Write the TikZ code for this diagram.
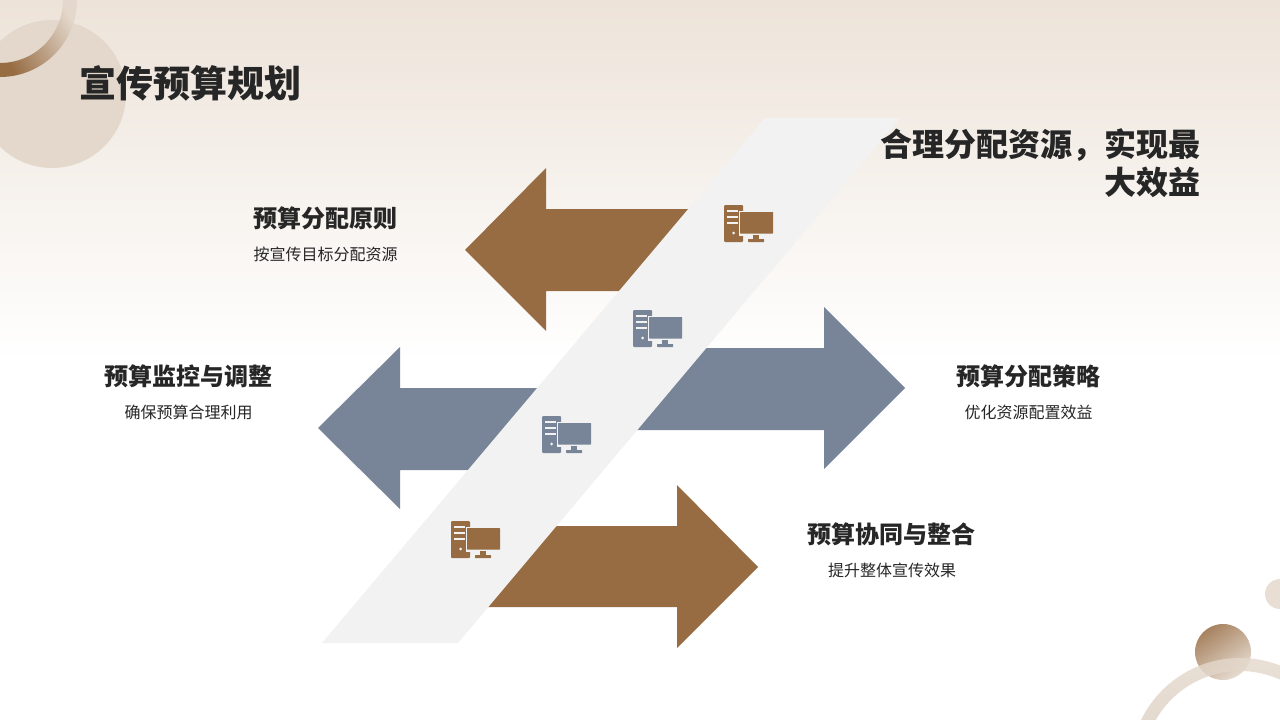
\documentclass[tikz,border=0pt]{standalone}
\usepackage{xcolor}
\usepackage{fontspec}
\usepackage{tikz}
\setmainfont{Noto Sans CJK SC}
\definecolor{brownarrow}{HTML}{976C43}
\definecolor{bluearrow}{HTML}{788598}
\definecolor{bandgrey}{HTML}{F2F2F2}
\definecolor{inktext}{HTML}{262626}
\definecolor{sandtop}{HTML}{EDE3D9}
\definecolor{sandcircle}{HTML}{E4D8CC}
\tikzset{
  headtext/.style={text=inktext,font=\fontsize{24}{28}\selectfont\bfseries,inner sep=0pt},
  subtext/.style={text=inktext,font=\fontsize{16}{20}\selectfont,inner sep=0pt},
  computer/.pic={
    \fill[rounded corners=1] (0,0) rectangle (19,37);
    \fill[bandgrey] (3,5) rectangle (14,7);
    \fill[bandgrey] (3,10.5) rectangle (14,12.5);
    \fill[bandgrey] (3,16.5) rectangle (14,18.5);
    \fill[bandgrey] (9.7,28) circle (1.5);
    \fill[bandgrey] (14.5,5.5) rectangle (51,30.5);
    \fill[rounded corners=.5] (16,7) rectangle (49,28.5);
    \fill (28.5,30) rectangle (35,34);
    \fill[rounded corners=.5] (24,34) rectangle (40,37);
  }
}
\begin{document}
\begin{tikzpicture}[x=1pt,y=-1pt]
  \useasboundingbox (0,0) rectangle (1280,720);
  % background
  \fill[white] (0,0) rectangle (1280,720);
  \shade[top color=sandtop,bottom color=white] (0,0) rectangle (1280,360);

  % corner decoration
  \fill[sandcircle] (52,94) circle (74);
  \shade[bottom color=brownarrow,top color=sandcircle,shading angle=-60]
    (77,0) arc (0:90:77) -- (0,63) arc (90:0:63) -- cycle;
  \fill[sandcircle!85!white] (1280,594) circle (15);
  \shade[left color=brownarrow!85!white,right color=sandcircle!90!white,shading angle=35]
    (1223,652) circle (28);
  \shade[even odd rule,top color=sandcircle,bottom color=sandcircle!75!brownarrow,opacity=.8]
    (1240,768) circle (110) (1240,768) circle (97);

  % arrows
  \fill[brownarrow] (465,250)--(546,168)--(546,209)--(700,209)--(700,291)--(546,291)--(546,331)--cycle;
  \fill[bluearrow] (318,428)--(400,347)--(400,388)--(560,388)--(560,470)--(400,470)--(400,509)--cycle;
  \fill[bluearrow] (905,388)--(824,307)--(824,348)--(620,348)--(620,430)--(824,430)--(824,469)--cycle;
  \fill[brownarrow] (758,567)--(677,485)--(677,526)--(470,526)--(470,607)--(677,607)--(677,648)--cycle;

  % band
  \fill[bandgrey] (322,643)--(458,643)--(900,118)--(765,118)--cycle;

  % icons
  \pic[brownarrow] at (724,205) {computer};
  \pic[bluearrow] at (633,310) {computer};
  \pic[bluearrow] at (542,416) {computer};
  \pic[brownarrow] at (451,521) {computer};

  % texts
  \node[anchor=west,text=inktext,inner sep=0pt,font=\fontsize{37}{42}\selectfont\bfseries] (title) at (79.5,83) {宣传预算规划};
  \node[anchor=east,align=right,text=inktext,inner sep=0pt,font=\fontsize{32}{38}\selectfont\bfseries] (slogan) at (1201,163) {合理分配资源，实现最\\大效益};

  \node[headtext] (headone) at (325,218) {预算分配原则};
  \node[subtext] (subone) at (325.5,254) {按宣传目标分配资源};
  \node[headtext] (headtwo) at (188.5,376) {预算监控与调整};
  \node[subtext] (subtwo) at (188.5,412) {确保预算合理利用};
  \node[headtext] (headthree) at (1028,376) {预算分配策略};
  \node[subtext] (subthree) at (1028.5,412) {优化资源配置效益};
  \node[headtext] (headfour) at (891.5,534) {预算协同与整合};
  \node[subtext] (subfour) at (892,570) {提升整体宣传效果};
\end{tikzpicture}
\end{document}
